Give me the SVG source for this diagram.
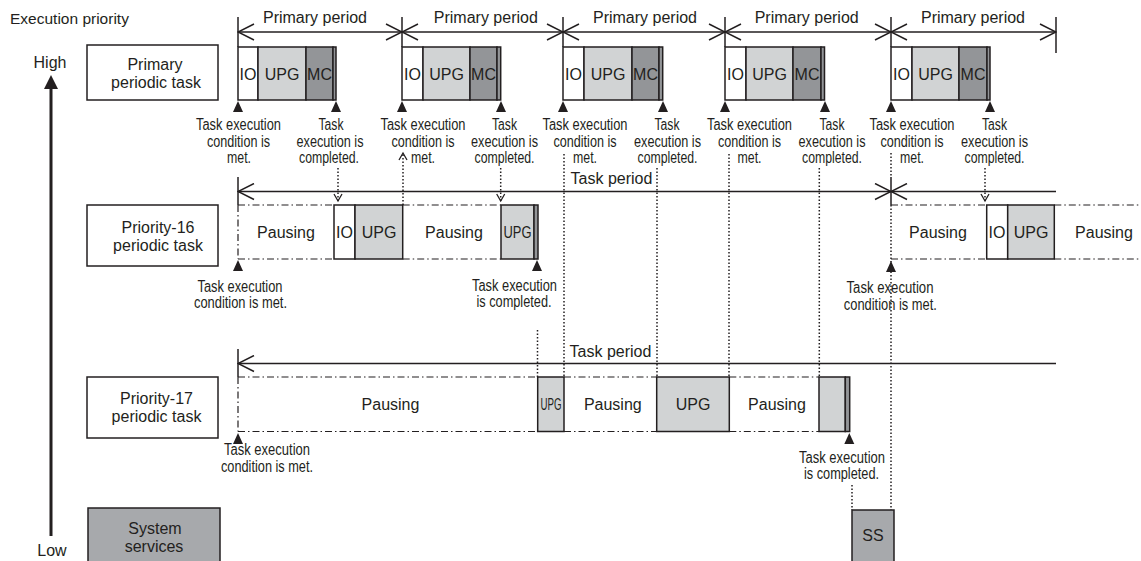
<svg xmlns="http://www.w3.org/2000/svg" width="1141" height="561" viewBox="0 0 1141 561">
<style>
text{font-family:"Liberation Sans",Arial,Helvetica,sans-serif;fill:#231f20}
.t{font-size:16px}
.m{text-anchor:middle}
.l{font-size:16px;text-anchor:middle}
.box{stroke:#231f20;stroke-width:1.5}
.wh{fill:#fff}
.lg{fill:#d1d3d4}
.dg{fill:#939598}
.mg{fill:#a7a9ac}
.ln{stroke:#231f20;stroke-width:1.5;fill:none}
.dd{stroke:#231f20;stroke-width:1.2;stroke-dasharray:7 3 1.5 3;fill:none}
.dot{stroke:#231f20;stroke-width:1.5;stroke-dasharray:1.5 2;fill:none}
.tri{fill:#231f20}
</style>
<defs>
<marker id="chev" viewBox="-1 -1 18 18" refX="16" refY="8" markerWidth="18" markerHeight="18" markerUnits="userSpaceOnUse" orient="auto-start-reverse">
<path d="M0,0 L16,8 L0,16" fill="none" stroke="#231f20" stroke-width="1.5"/>
</marker>
<marker id="sm" viewBox="-1 -1 10 10" refX="7" refY="4" markerWidth="10" markerHeight="10" markerUnits="userSpaceOnUse" orient="auto">
<path d="M0,0 L7,4 L0,8" fill="none" stroke="#231f20" stroke-width="1.3"/>
</marker>
</defs>
<rect width="1141" height="561" fill="#fff"/>

<!-- priority axis -->
<g id="priority-axis">
<text class="t" x="10" y="24" style="font-size:15.5px">Execution priority</text>
<text class="t m" x="50" y="68">High</text>
<text class="t m" x="52" y="556">Low</text>
<line x1="51" y1="86" x2="51" y2="536" stroke="#231f20" stroke-width="3"/>
<polygon class="tri" points="51,75 44,89 58,89"/>
</g>

<!-- row labels -->
<g id="node-primary">
<rect class="box wh" x="87" y="45" width="131" height="55"/>
<text class="t m" x="155" y="70">Primary</text>
<text class="t m" x="156" y="88">periodic task</text>
</g>
<g id="node-p16">
<rect class="box wh" x="87" y="205" width="131" height="61"/>
<text class="t m" x="158" y="233">Priority-16</text>
<text class="t m" x="158" y="251">periodic task</text>
</g>
<g id="node-p17">
<rect class="box wh" x="87" y="377" width="131" height="61"/>
<text class="t m" x="156.5" y="404">Priority-17</text>
<text class="t m" x="156.5" y="421.5">periodic task</text>
</g>
<g id="node-sys">
<rect class="box mg" x="88" y="508" width="132" height="60"/>
<text class="t m" x="155" y="534">System</text>
<text class="t m" x="154" y="551.5">services</text>
</g>

<!-- connectors -->
<g id="connectors">
<!-- primary period -->
<line class="ln" x1="238" y1="17" x2="238" y2="47"/>
<line class="ln" x1="402" y1="17" x2="402" y2="47"/>
<line class="ln" x1="563" y1="17" x2="563" y2="47"/>
<line class="ln" x1="725" y1="17" x2="725" y2="47"/>
<line class="ln" x1="891" y1="17" x2="891" y2="47"/>
<line class="ln" x1="1056" y1="17" x2="1056" y2="53"/>
<line class="ln" x1="238" y1="32" x2="402" y2="32" marker-start="url(#chev)" marker-end="url(#chev)"/>
<line class="ln" x1="402" y1="32" x2="563" y2="32" marker-start="url(#chev)" marker-end="url(#chev)"/>
<line class="ln" x1="563" y1="32" x2="725" y2="32" marker-start="url(#chev)" marker-end="url(#chev)"/>
<line class="ln" x1="725" y1="32" x2="891" y2="32" marker-start="url(#chev)" marker-end="url(#chev)"/>
<line class="ln" x1="891" y1="32" x2="1056" y2="32" marker-start="url(#chev)" marker-end="url(#chev)"/>
<!-- priority-16 task period -->
<line class="ln" x1="238" y1="177" x2="238" y2="205"/>
<line class="ln" x1="891" y1="177" x2="891" y2="205"/>
<line class="ln" x1="238" y1="191.5" x2="891" y2="191.5" marker-start="url(#chev)" marker-end="url(#chev)"/>
<line class="ln" x1="891" y1="191.5" x2="1056" y2="191.5" marker-start="url(#chev)"/>
<!-- priority-17 task period -->
<line class="ln" x1="238" y1="349" x2="238" y2="377"/>
<line class="ln" x1="238" y1="363.5" x2="1056" y2="363.5" marker-start="url(#chev)"/>
<!-- dotted links -->
<line class="dot" x1="338" y1="168" x2="338" y2="201" marker-end="url(#sm)"/>
<line class="dot" x1="403" y1="205" x2="403" y2="153" marker-end="url(#sm)"/>
<line class="dot" x1="500.7" y1="168" x2="500.7" y2="201" marker-end="url(#sm)"/>
<line class="dot" x1="985" y1="168" x2="985" y2="201" marker-end="url(#sm)"/>
<line class="dot" x1="564" y1="154" x2="564" y2="377"/>
<line class="dot" x1="657" y1="168" x2="657" y2="377"/>
<line class="dot" x1="729" y1="154" x2="729" y2="377"/>
<line class="dot" x1="819.3" y1="168" x2="819.3" y2="377"/>
<line class="dot" x1="891" y1="153" x2="891" y2="177"/>
<line class="dot" x1="891" y1="205" x2="891" y2="510"/>
<line class="dot" x1="537.5" y1="330" x2="537.5" y2="377"/>
<line class="dot" x1="852" y1="485" x2="852" y2="510"/>
</g>

<g id="period-labels">
<text class="t m" x="315" y="23">Primary period</text>
<text class="t m" x="485.8" y="23">Primary period</text>
<text class="t m" x="645" y="23">Primary period</text>
<text class="t m" x="806.7" y="23">Primary period</text>
<text class="t m" x="973" y="23">Primary period</text>
<text class="t m" x="611.5" y="184">Task period</text>
<text class="t m" x="610.5" y="357">Task period</text>
</g>

<!-- primary periodic task executions -->
<g id="primary-exec-1">
<rect class="box wh" x="238" y="47" width="20" height="53"/>
<rect class="box lg" x="258" y="47" width="48" height="53"/>
<rect class="box dg" x="306" y="47" width="27" height="53"/>
<rect class="box dg" x="333" y="47" width="3" height="53"/>
<text class="t m" x="248" y="80">IO</text><text class="t m" x="282" y="80">UPG</text><text class="t m" x="319.5" y="80">MC</text>
</g>
<g id="primary-exec-2">
<rect class="box wh" x="402" y="47" width="21" height="53"/>
<rect class="box lg" x="423" y="47" width="47" height="53"/>
<rect class="box dg" x="470" y="47" width="27" height="53"/>
<rect class="box dg" x="497" y="47" width="3.7" height="53"/>
<text class="t m" x="412.5" y="80">IO</text><text class="t m" x="446.5" y="80">UPG</text><text class="t m" x="483.5" y="80">MC</text>
</g>
<g id="primary-exec-3">
<rect class="box wh" x="563" y="47" width="21" height="53"/>
<rect class="box lg" x="584" y="47" width="48" height="53"/>
<rect class="box dg" x="632" y="47" width="27" height="53"/>
<rect class="box dg" x="659" y="47" width="3.7" height="53"/>
<text class="t m" x="573.5" y="80">IO</text><text class="t m" x="608" y="80">UPG</text><text class="t m" x="645.5" y="80">MC</text>
</g>
<g id="primary-exec-4">
<rect class="box wh" x="725" y="47" width="21" height="53"/>
<rect class="box lg" x="746" y="47" width="47" height="53"/>
<rect class="box dg" x="793" y="47" width="28" height="53"/>
<rect class="box dg" x="821" y="47" width="3.5" height="53"/>
<text class="t m" x="735.5" y="80">IO</text><text class="t m" x="769.5" y="80">UPG</text><text class="t m" x="807" y="80">MC</text>
</g>
<g id="primary-exec-5">
<rect class="box wh" x="891" y="47" width="21" height="53"/>
<rect class="box lg" x="912" y="47" width="47" height="53"/>
<rect class="box dg" x="959" y="47" width="28" height="53"/>
<rect class="box dg" x="987" y="47" width="3" height="53"/>
<text class="t m" x="901.5" y="80">IO</text><text class="t m" x="935.5" y="80">UPG</text><text class="t m" x="973" y="80">MC</text>
</g>

<g id="primary-events">
<polygon class="tri" points="238,101 233,112 243,112"/>
<polygon class="tri" points="336,101 331,112 341,112"/>
<polygon class="tri" points="402,101 397,112 407,112"/>
<polygon class="tri" points="501,101 496,112 506,112"/>
<polygon class="tri" points="563,101 558,112 568,112"/>
<polygon class="tri" points="663,101 658,112 668,112"/>
<polygon class="tri" points="725,101 720,112 730,112"/>
<polygon class="tri" points="825,101 820,112 830,112"/>
<polygon class="tri" points="891,101 886,112 896,112"/>
<polygon class="tri" points="990,101 985,112 995,112"/>

<text class="l" x="238.5" y="130" textLength="85" lengthAdjust="spacingAndGlyphs">Task execution</text>
<text class="l" x="238.5" y="146.5" textLength="63" lengthAdjust="spacingAndGlyphs">condition is</text>
<text class="l" x="239" y="163" textLength="24" lengthAdjust="spacingAndGlyphs">met.</text>
<text class="l" x="331" y="130" textLength="25" lengthAdjust="spacingAndGlyphs">Task</text>
<text class="l" x="330" y="146.5" textLength="67" lengthAdjust="spacingAndGlyphs">execution is</text>
<text class="l" x="329" y="163" textLength="60" lengthAdjust="spacingAndGlyphs">completed.</text>

<text class="l" x="423" y="130" textLength="85" lengthAdjust="spacingAndGlyphs">Task execution</text>
<text class="l" x="423" y="146.5" textLength="63" lengthAdjust="spacingAndGlyphs">condition is</text>
<text class="l" x="423" y="163" textLength="24" lengthAdjust="spacingAndGlyphs">met.</text>
<text class="l" x="504.5" y="130" textLength="25" lengthAdjust="spacingAndGlyphs">Task</text>
<text class="l" x="504.5" y="146.5" textLength="67" lengthAdjust="spacingAndGlyphs">execution is</text>
<text class="l" x="504.5" y="163" textLength="60" lengthAdjust="spacingAndGlyphs">completed.</text>

<text class="l" x="585" y="130" textLength="85" lengthAdjust="spacingAndGlyphs">Task execution</text>
<text class="l" x="585" y="146.5" textLength="63" lengthAdjust="spacingAndGlyphs">condition is</text>
<text class="l" x="585" y="163" textLength="24" lengthAdjust="spacingAndGlyphs">met.</text>
<text class="l" x="667" y="130" textLength="25" lengthAdjust="spacingAndGlyphs">Task</text>
<text class="l" x="667.5" y="146.5" textLength="67" lengthAdjust="spacingAndGlyphs">execution is</text>
<text class="l" x="667.5" y="163" textLength="60" lengthAdjust="spacingAndGlyphs">completed.</text>

<text class="l" x="749.5" y="130" textLength="85" lengthAdjust="spacingAndGlyphs">Task execution</text>
<text class="l" x="749.5" y="146.5" textLength="63" lengthAdjust="spacingAndGlyphs">condition is</text>
<text class="l" x="749.5" y="163" textLength="24" lengthAdjust="spacingAndGlyphs">met.</text>
<text class="l" x="832" y="130" textLength="25" lengthAdjust="spacingAndGlyphs">Task</text>
<text class="l" x="832" y="146.5" textLength="67" lengthAdjust="spacingAndGlyphs">execution is</text>
<text class="l" x="832" y="163" textLength="60" lengthAdjust="spacingAndGlyphs">completed.</text>

<text class="l" x="912" y="130" textLength="85" lengthAdjust="spacingAndGlyphs">Task execution</text>
<text class="l" x="912" y="146.5" textLength="63" lengthAdjust="spacingAndGlyphs">condition is</text>
<text class="l" x="912" y="163" textLength="24" lengthAdjust="spacingAndGlyphs">met.</text>
<text class="l" x="994.5" y="130" textLength="25" lengthAdjust="spacingAndGlyphs">Task</text>
<text class="l" x="994.5" y="146.5" textLength="67" lengthAdjust="spacingAndGlyphs">execution is</text>
<text class="l" x="994.5" y="163" textLength="60" lengthAdjust="spacingAndGlyphs">completed.</text>
</g>

<!-- priority-16 row -->
<g id="p16-row">
<line class="dd" x1="238" y1="205" x2="334" y2="205"/>
<line class="dd" x1="238" y1="259" x2="334" y2="259"/>
<line class="dd" x1="238" y1="205" x2="238" y2="259"/>
<line class="dd" x1="402.7" y1="205" x2="501" y2="205"/>
<line class="dd" x1="402.7" y1="259" x2="501" y2="259"/>
<line class="dd" x1="891" y1="205" x2="986.7" y2="205"/>
<line class="dd" x1="891" y1="259" x2="986.7" y2="259"/>
<line class="dd" x1="1054.3" y1="205" x2="1141" y2="205"/>
<line class="dd" x1="1054.3" y1="259" x2="1141" y2="259"/>
<rect class="box wh" x="334" y="205" width="21" height="54"/>
<rect class="box lg" x="355" y="205" width="47.7" height="54"/>
<rect class="box lg" x="501" y="205" width="33" height="54"/>
<rect class="box dg" x="534" y="205" width="4" height="54"/>
<rect class="box wh" x="986.7" y="205" width="21" height="54"/>
<rect class="box lg" x="1007.7" y="205" width="46.6" height="54"/>
<text class="t m" x="286" y="238">Pausing</text>
<text class="t m" x="344.5" y="238">IO</text>
<text class="t m" x="379" y="238">UPG</text>
<text class="t m" x="454" y="238">Pausing</text>
<text class="t m" x="517.5" y="238" textLength="28" lengthAdjust="spacingAndGlyphs">UPG</text>
<text class="t m" x="938" y="238">Pausing</text>
<text class="t m" x="997" y="238">IO</text>
<text class="t m" x="1031" y="238">UPG</text>
<text class="t m" x="1104" y="238">Pausing</text>
<polygon class="tri" points="238,260 233,271 243,271"/>
<polygon class="tri" points="537,260 532,271 542,271"/>
<polygon class="tri" points="891,261 886,272 896,272"/>
<text class="l" x="240" y="291.5" textLength="85" lengthAdjust="spacingAndGlyphs">Task execution</text>
<text class="l" x="240.5" y="308" textLength="93" lengthAdjust="spacingAndGlyphs">condition is met.</text>
<text class="l" x="514.5" y="290.7" textLength="85" lengthAdjust="spacingAndGlyphs">Task execution</text>
<text class="l" x="514" y="307" textLength="75" lengthAdjust="spacingAndGlyphs">is completed.</text>
<text class="l" x="890" y="293" textLength="87" lengthAdjust="spacingAndGlyphs">Task execution</text>
<text class="l" x="890.3" y="309.5" textLength="93" lengthAdjust="spacingAndGlyphs">condition is met.</text>
</g>

<!-- priority-17 row -->
<g id="p17-row">
<line class="dd" x1="238" y1="377" x2="537.7" y2="377"/>
<line class="dd" x1="238" y1="431.5" x2="537.7" y2="431.5"/>
<line class="dd" x1="238" y1="377" x2="238" y2="431.5"/>
<line class="dd" x1="564" y1="377" x2="656.7" y2="377"/>
<line class="dd" x1="564" y1="431.5" x2="656.7" y2="431.5"/>
<line class="dd" x1="729.3" y1="377" x2="819" y2="377"/>
<line class="dd" x1="729.3" y1="431.5" x2="819" y2="431.5"/>
<rect class="box lg" x="537.7" y="377" width="26.3" height="54.5"/>
<rect class="box lg" x="656.7" y="377" width="72.6" height="54.5"/>
<rect class="box lg" x="819" y="377" width="26.3" height="54.5"/>
<rect class="box dg" x="845.3" y="377" width="4.4" height="54.5"/>
<text class="t m" x="390.5" y="410">Pausing</text>
<text class="t m" x="551" y="410" textLength="21" lengthAdjust="spacingAndGlyphs">UPG</text>
<text class="t m" x="612.8" y="410">Pausing</text>
<text class="t m" x="693" y="410">UPG</text>
<text class="t m" x="777" y="410">Pausing</text>
<polygon class="tri" points="238,433 233,444 243,444"/>
<polygon class="tri" points="849.3,433 844.3,444 854.3,444"/>
<text class="l" x="267" y="455" textLength="86" lengthAdjust="spacingAndGlyphs">Task execution</text>
<text class="l" x="267" y="471.5" textLength="92" lengthAdjust="spacingAndGlyphs">condition is met.</text>
<text class="l" x="842" y="463.3" textLength="86" lengthAdjust="spacingAndGlyphs">Task execution</text>
<text class="l" x="841.5" y="479.3" textLength="75" lengthAdjust="spacingAndGlyphs">is completed.</text>
</g>

<g id="node-ss">
<rect class="box mg" x="852" y="510" width="42" height="60"/>
<text class="t m" x="873" y="541">SS</text>
</g>
</svg>
